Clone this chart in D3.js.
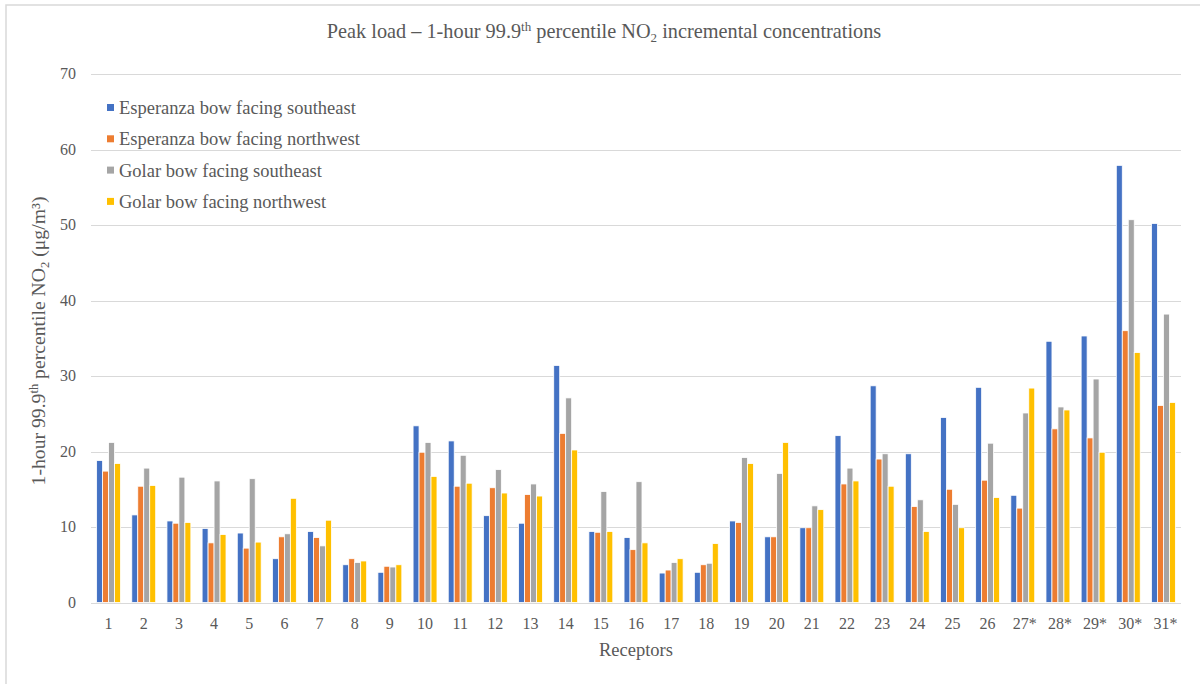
<!DOCTYPE html>
<html lang="en">
<head>
<meta charset="UTF-8">
<title>Peak load NO2</title>
<script src="https://d3js.org/d3.v7.min.js"></script>
<style>
  body { margin: 0; background: #fff; }
  text { font-family: "Liberation Serif", "Times New Roman", serif; fill: #595959; }
</style>
</head>
<body>
<div id="chart"></div>
<script>
// receptors on the x axis
var receptors = ["1","2","3","4","5","6","7","8","9","10","11","12","13","14","15","16",
                 "17","18","19","20","21","22","23","24","25","26","27*","28*","29*","30*","31*"];

var seriesNames = ["Esperanza bow facing southeast", "Esperanza bow facing northwest",
                   "Golar bow facing southeast", "Golar bow facing northwest"];

var espSE = [18.8,11.6,10.8,9.8,9.2,5.8,9.4,5.0,4.0,23.4,21.4,11.5,10.5,31.4,9.4,8.6,
             3.9,4.0,10.8,8.7,9.9,22.1,28.7,19.7,24.5,28.5,14.2,34.6,35.3,57.9,50.2];
var espNW = [17.4,15.4,10.5,7.9,7.2,8.7,8.6,5.8,4.8,19.9,15.4,15.2,14.3,22.4,9.3,7.0,
             4.3,5.0,10.6,8.7,9.9,15.7,19.0,12.7,15.0,16.2,12.5,23.0,21.8,36.0,26.1];
var golSE = [21.2,17.8,16.6,16.1,16.4,9.1,7.5,5.3,4.7,21.2,19.5,17.6,15.7,27.1,14.7,16.0,
             5.3,5.2,19.2,17.1,12.8,17.8,19.7,13.6,13.0,21.1,25.1,25.9,29.6,50.7,38.2];
var golNW = [18.4,15.5,10.6,9.0,8.0,13.8,10.9,5.5,5.0,16.7,15.8,14.5,14.1,20.2,9.4,7.9,
             5.8,7.8,18.4,21.2,12.3,16.1,15.4,9.4,9.9,13.9,28.4,25.5,19.9,33.1,26.5];

var yTicks = [0,10,20,30,40,50,60,70];
var colors = ["#4472C4", "#ED7D31", "#A5A5A5", "#FFC000"];

var allSeries = [espSE, espNW, golSE, golNW];

var W = 1200, H = 684;
var svg = d3.select("#chart").append("svg")
    .attr("width", W).attr("height", H);

// outer frame
svg.append("rect")
    .attr("x", 6).attr("y", 5)
    .attr("width", W + 20).attr("height", H + 20)
    .attr("fill", "none").attr("stroke", "#d9d9d9").attr("stroke-width", 1.5);

var plotLeft = 91, plotRight = 1181, plotTop = 74, plotBottom = 602.5;

var x = d3.scaleBand().domain(receptors).range([plotLeft, plotRight]).paddingInner(0.32).paddingOuter(0.16);
var xs = d3.scaleBand().domain(d3.range(4)).range([0, x.bandwidth()]);
var y = d3.scaleLinear().domain([0, 70]).range([plotBottom, plotTop]);

// gridlines
svg.append("g")
    .selectAll("line")
    .data(yTicks)
    .enter().append("line")
    .attr("x1", plotLeft).attr("x2", plotRight)
    .attr("y1", function(d){ return Math.round(y(d)) + 0.5; })
    .attr("y2", function(d){ return Math.round(y(d)) + 0.5; })
    .attr("stroke", "#d9d9d9").attr("stroke-width", 1);

// y tick labels
svg.append("g")
    .selectAll("text")
    .data(yTicks)
    .enter().append("text")
    .attr("x", 76)
    .attr("y", function(d){ return y(d) + 5; })
    .attr("text-anchor", "end")
    .attr("font-size", "16px")
    .text(function(d){ return d; });

// bars
var groups = svg.append("g")
    .selectAll("g")
    .data(receptors)
    .enter().append("g")
    .attr("transform", function(d){ return "translate(" + x(d) + ",0)"; });

groups.selectAll("rect")
    .data(function(d, i){ return allSeries.map(function(s, k){ return {k: k, v: s[i]}; }); })
    .enter().append("rect")
    .attr("x", function(d){ return xs(d.k); })
    .attr("y", function(d){ return y(d.v); })
    .attr("width", xs.bandwidth())
    .attr("height", function(d){ return plotBottom - y(d.v); })
    .attr("fill", function(d){ return colors[d.k]; })
    .attr("stroke", "#fff").attr("stroke-width", 0.8);

// x tick labels
svg.append("g")
    .selectAll("text")
    .data(receptors)
    .enter().append("text")
    .attr("x", function(d){ return x(d) + x.bandwidth() / 2 + (d.indexOf("*") > 0 ? 2 : 0); })
    .attr("y", 629)
    .attr("text-anchor", "middle")
    .attr("font-size", "16px")
    .text(function(d){ return d; });

// x axis title
svg.append("text")
    .attr("x", 636).attr("y", 656)
    .attr("text-anchor", "middle")
    .attr("font-size", "18.5px")
    .text("Receptors");

// y axis title
var yt = svg.append("text")
    .attr("transform", "translate(45,341) rotate(-90)")
    .attr("text-anchor", "middle")
    .attr("font-size", "19.7px");
yt.append("tspan").text("1-hour 99.9");
yt.append("tspan").attr("font-size", "12.5px").attr("dy", -7).text("th");
yt.append("tspan").attr("dy", 7).text(" percentile NO");
yt.append("tspan").attr("font-size", "12.5px").attr("dy", 4).text("2");
yt.append("tspan").attr("dy", -4).text(" (\u03bcg/m\u00b3)");

// chart title
var tt = svg.append("text")
    .attr("x", 604).attr("y", 38)
    .attr("text-anchor", "middle")
    .attr("font-size", "20.3px");
tt.append("tspan").text("Peak load \u2013 1-hour 99.9");
tt.append("tspan").attr("font-size", "13px").attr("dy", -7).text("th");
tt.append("tspan").attr("dy", 7).text(" percentile NO");
tt.append("tspan").attr("font-size", "13px").attr("dy", 4).text("2");
tt.append("tspan").attr("dy", -4).text(" incremental concentrations");

// legend
var legend = svg.append("g")
    .selectAll("g")
    .data(seriesNames)
    .enter().append("g")
    .attr("transform", function(d, i){ return "translate(107," + (108 + i * 31.3) + ")"; });

legend.append("rect")
    .attr("x", 0).attr("y", -4)
    .attr("width", 7).attr("height", 7)
    .attr("fill", function(d, i){ return colors[i]; });

legend.append("text")
    .attr("x", 12).attr("y", 6)
    .attr("font-size", "18.5px")
    .text(function(d){ return d; });
</script>
</body>
</html>
